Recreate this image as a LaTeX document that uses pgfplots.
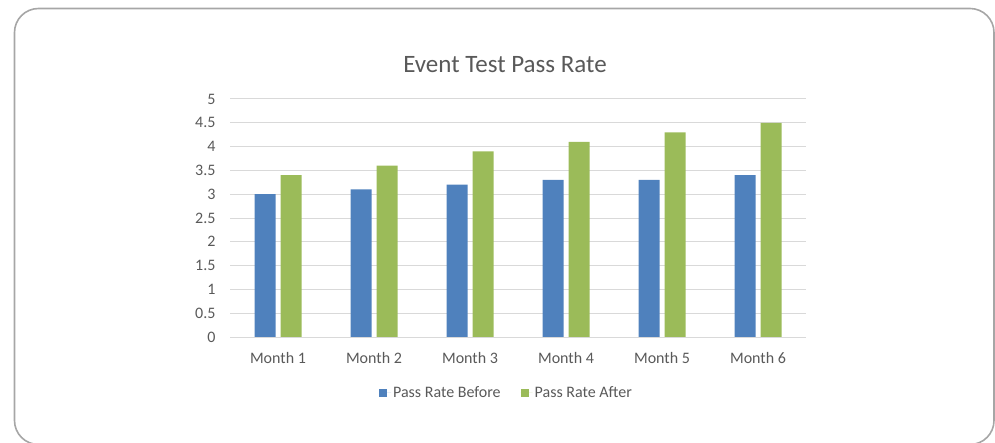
\documentclass[border=0pt]{standalone}
\usepackage{pgfplots}
\pgfplotsset{compat=1.18}
\usepackage{fontspec}
\setmainfont{Carlito}
\definecolor{txt}{HTML}{595959}
\definecolor{gridc}{HTML}{D9D9D9}
\definecolor{bblue}{HTML}{4F81BD}
\definecolor{bgreen}{HTML}{9BBB59}
\definecolor{framec}{HTML}{A6A6A6}
\begin{document}
\begin{tikzpicture}
\path[use as bounding box] (0pt,0pt) rectangle (995pt,442pt);
\begin{scope}
\clip (0pt,0pt) rectangle (995pt,442pt);
\draw[framec, line width=1.6pt, rounded corners=24pt] (14.5pt,-2.5pt) rectangle (994pt,433.5pt);
\end{scope}
\node[txt, font=\fontsize{25}{29}\selectfont] at (505pt,377pt) {Event Test Pass Rate};
\begin{axis}[
  at={(230pt,105pt)}, anchor=south west,
  width=576pt, height=238pt, scale only axis,
  xmin=-0.5, xmax=5.5, ymin=0, ymax=5,
  ybar, bar width=21pt,
  xtick={0,1,2,3,4,5},
  xticklabels={Month 1,Month 2,Month 3,Month 4,Month 5,Month 6},
  ytick={0,0.5,1,1.5,2,2.5,3,3.5,4,4.5,5},
  yticklabels={0,0.5,1,1.5,2,2.5,3,3.5,4,4.5,5},
  ymajorgrids, grid style={gridc, line width=1pt},
  axis line style={draw=none},
  major tick length=0pt,
  ticklabel style={txt, font=\fontsize{16}{19}\selectfont},
  yticklabel style={xshift=-11pt},
  xticklabel style={yshift=-12pt},
  legend style={draw=none, fill=none, at={(0.48,-0.19)}, anchor=north, legend columns=2,
    font=\fontsize{16}{19}\selectfont, text=txt,
    /tikz/every even column/.append style={column sep=18pt}},
  legend image code/.code={\path (0pt,0pt) -- (12pt,0pt);\fill[#1] (0pt,-4pt) rectangle (8pt,4pt);},
]
\addplot[fill=bblue, draw=none, bar shift=-13pt] coordinates {(0,3.0) (1,3.1) (2,3.2) (3,3.3) (4,3.3) (5,3.4)};
\addlegendentry{Pass Rate Before}
\addplot[fill=bgreen, draw=none, bar shift=13pt] coordinates {(0,3.4) (1,3.6) (2,3.9) (3,4.1) (4,4.3) (5,4.5)};
\addlegendentry{Pass Rate After}
\draw[gridc, line width=1pt] (axis cs:-0.5,0) -- (axis cs:5.5,0);
\end{axis}
\end{tikzpicture}
\end{document}
